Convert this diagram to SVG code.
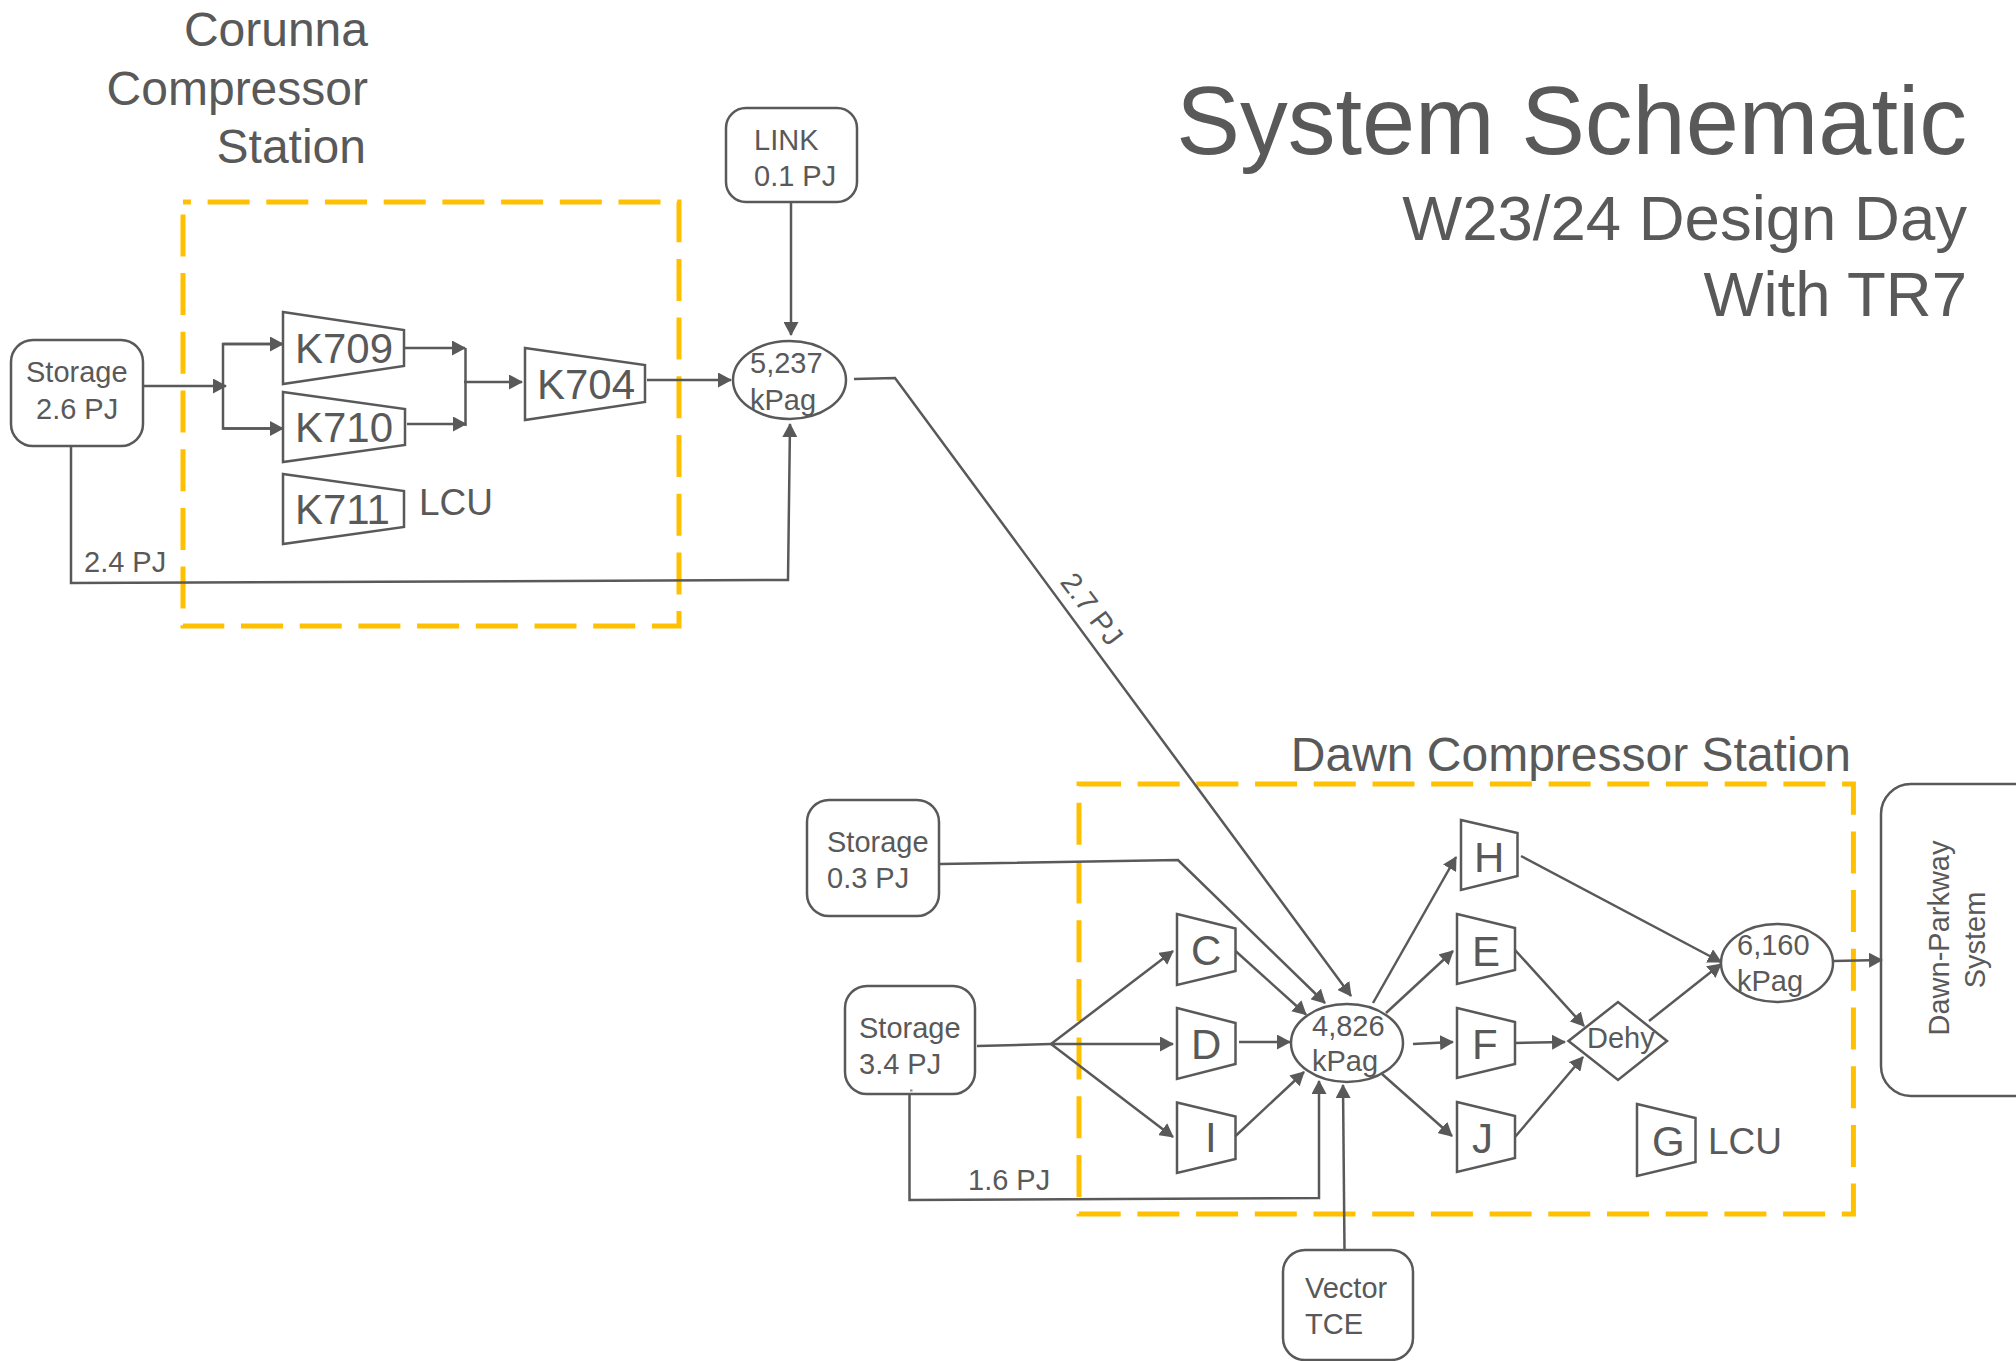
<svg xmlns="http://www.w3.org/2000/svg" width="2016" height="1361" viewBox="0 0 2016 1361">
<style>
text{font-family:"Liberation Sans",Arial,sans-serif;fill:#595959}
.t{font-size:29px}
.k{font-size:42px}
.l{font-size:37px}
.h{font-size:48px}
.n{fill:none;stroke:#595959;stroke-width:2.5;stroke-linejoin:miter}
.z{fill:none;stroke:#FFC000;stroke-width:5;stroke-dasharray:42 16.7}
.c path{fill:none;stroke:#595959;stroke-width:2.5;marker-end:url(#a)}
.c path.p{marker-end:none}
</style>
<defs>
<marker id="a" markerUnits="userSpaceOnUse" markerWidth="14" markerHeight="15" refX="13" refY="7.5" orient="auto" viewBox="0 0 14 15"><path d="M0,0L14,7.5L0,15Z" fill="#595959"/></marker>
</defs>
<rect width="2016" height="1361" fill="#fff"/>
<g id="titles">
<text x="1967" y="154" text-anchor="end" font-size="95.5">System Schematic</text>
<text x="1967" y="240" text-anchor="end" font-size="63.5">W23/24 Design Day</text>
<text x="1967" y="316" text-anchor="end" font-size="63.5">With TR7</text>
</g>
<g id="corunna-station">
<path class="z" style="stroke-dashoffset:34.1" d="M183,202H679V626H183Z"/>
<text class="h" x="368" y="46" text-anchor="end">Corunna</text>
<text class="h" x="368" y="105" text-anchor="end">Compressor</text>
<text class="h" x="366" y="163" text-anchor="end">Station</text>
</g>
<g id="dawn-station">
<path class="z" d="M1079,784H1853.4V1214H1079Z"/>
<text class="h" x="1851" y="771" text-anchor="end">Dawn Compressor Station</text>
</g>
<g id="storage-26"><rect class="n" x="11" y="340" width="132" height="106" rx="22"/><text class="t" x="26" y="382">Storage</text><text class="t" x="36" y="419">2.6 PJ</text></g>
<g id="link"><rect class="n" x="726" y="108" width="131" height="94" rx="20"/><text class="t" x="754" y="150">LINK</text><text class="t" x="754" y="186">0.1 PJ</text></g>
<g id="k709"><path class="n" d="M283,312L404,330V366L283,384Z"/><text class="k" x="295" y="363">K709</text></g>
<g id="k710"><path class="n" d="M283,392L405,409V445L283,462Z"/><text class="k" x="295" y="442">K710</text></g>
<g id="k711"><path class="n" d="M283,474L404,491V527L283,544Z"/><text class="k" x="295" y="524">K711</text><text class="l" x="419" y="515">LCU</text></g>
<g id="k704"><path class="n" d="M525,348L645,365V402L525,420Z"/><text class="k" x="537" y="399">K704</text></g>
<g id="p5237"><ellipse class="n" cx="789.5" cy="380" rx="56.5" ry="39"/><text class="t" x="750" y="373">5,237</text><text class="t" x="750" y="410">kPag</text></g>
<g id="storage-03"><rect class="n" x="807" y="800" width="132" height="116" rx="22"/><text class="t" x="827" y="852">Storage</text><text class="t" x="827" y="888">0.3 PJ</text></g>
<g id="storage-34"><rect class="n" x="845" y="986" width="130" height="108" rx="22"/><text class="t" x="859" y="1038">Storage</text><text class="t" x="859" y="1074">3.4 PJ</text><rect x="910" y="1089.5" width="2.5" height="2" fill="#8c8c8c"/></g>
<g id="vector"><rect class="n" x="1283" y="1250" width="130" height="110" rx="22"/><text class="t" x="1305" y="1298">Vector</text><text class="t" x="1305" y="1334">TCE</text></g>
<g id="c"><path class="n" d="M1177,914L1235.5,928.5V971L1177,985Z"/><text class="k" x="1191" y="965">C</text></g>
<g id="d"><path class="n" d="M1177,1008L1235.5,1023V1064L1177,1079Z"/><text class="k" x="1191" y="1059">D</text></g>
<g id="i"><path class="n" d="M1177,1102.5L1235.5,1116.5V1159L1177,1173Z"/><text class="k" x="1205" y="1152">I</text></g>
<g id="h"><path class="n" d="M1461,820L1517.5,833V876L1461,890Z"/><text class="k" x="1474" y="872">H</text></g>
<g id="e"><path class="n" d="M1457,914L1515,928V970L1457,984Z"/><text class="k" x="1472" y="966">E</text></g>
<g id="f"><path class="n" d="M1457,1008L1515,1022V1064L1457,1078Z"/><text class="k" x="1472" y="1059">F</text></g>
<g id="j"><path class="n" d="M1457,1102L1515,1116V1158L1457,1172Z"/><text class="k" x="1472" y="1153">J</text></g>
<g id="g"><path class="n" d="M1637,1104L1695.5,1118V1162L1637,1176Z"/><text class="k" x="1652" y="1156">G</text><text class="l" x="1708" y="1154">LCU</text></g>
<g id="p4826"><ellipse class="n" cx="1347" cy="1043" rx="56" ry="39"/><text class="t" x="1312" y="1036">4,826</text><text class="t" x="1312" y="1071">kPag</text></g>
<g id="p6160"><ellipse class="n" cx="1777" cy="963" rx="56" ry="39"/><text class="t" x="1737" y="955">6,160</text><text class="t" x="1737" y="991">kPag</text></g>
<g id="dehy"><path class="n" d="M1568.5,1041L1618,1002L1667,1041L1618,1080Z"/><text class="t" x="1587" y="1048">Dehy</text></g>
<g id="dawn-parkway"><rect class="n" x="1881" y="784" width="200" height="312" rx="30"/><text class="t" text-anchor="middle" transform="translate(1949,938) rotate(-90)">Dawn-Parkway</text><text class="t" text-anchor="middle" transform="translate(1985,940) rotate(-90)">System</text></g>
<g id="connectors" class="c">
<path d="M143,386H226"/>
<path class="p" d="M283,344H223V428.5H283" style="marker-end:none"/>
<path d="M223,344H283"/>
<path d="M223,428.5H283"/>
<path d="M405,348H465"/>
<path d="M407,424H466"/>
<path class="p" d="M465.5,348V426"/>
<path d="M464,382H522"/>
<path d="M647,380H731"/>
<path d="M71,446V583L788,580L790,424"/>
<path d="M791,203V335"/>
<path d="M854,379L895,378L1351,996"/>
<path d="M940,864L1178,860L1325,1003"/>
<path class="p" d="M977,1046L1051,1044"/>
<path d="M1051,1044L1173,951"/>
<path d="M1051,1044H1173"/>
<path d="M1051,1044L1173,1137"/>
<path d="M1235.5,951L1306,1014.5"/>
<path d="M1239,1042H1290"/>
<path d="M1235.5,1136L1304,1072"/>
<path d="M909.5,1094V1200L1319,1198V1081"/>
<path d="M1344.5,1250L1343,1085"/>
<path d="M1373,1003L1456,857"/>
<path d="M1386,1013L1453,951"/>
<path d="M1413,1044L1453,1042"/>
<path d="M1382,1074L1452,1136"/>
<path d="M1515,950L1584,1026"/>
<path d="M1514,1043L1565,1042"/>
<path d="M1515,1137L1583,1057"/>
<path d="M1521,856L1721,962"/>
<path d="M1649,1021L1721,964"/>
<path d="M1833,961L1882,960"/>
</g>
<g id="connector-labels">
<text class="t" x="84" y="572">2.4 PJ</text>
<text class="t" x="968" y="1190">1.6 PJ</text>
<text class="t" text-anchor="middle" transform="translate(1084,615) rotate(53)">2.7 PJ</text>
</g>
</svg>
